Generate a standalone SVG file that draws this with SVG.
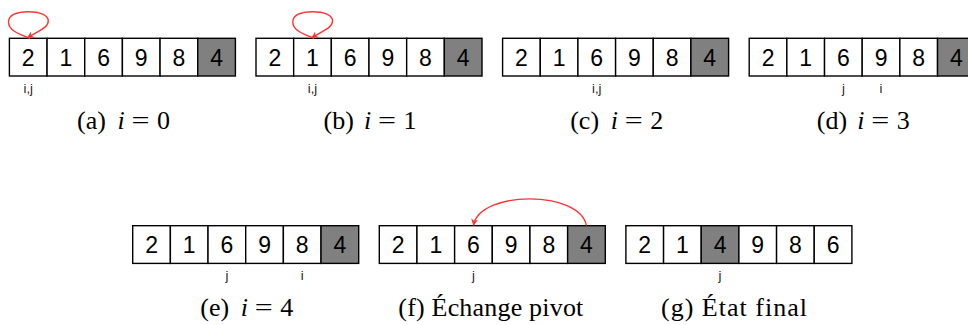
<svg xmlns="http://www.w3.org/2000/svg" width="968" height="325" viewBox="0 0 968 325">
<defs>
<style>
.c{fill:#fff;stroke:#000;stroke-width:1.4}
.p{fill:#808080;stroke:#000;stroke-width:1.4}
.n{font-family:"Liberation Sans",Arial,sans-serif;font-size:23px;fill:#000;text-anchor:middle}
.l{font-family:"Liberation Sans",Arial,sans-serif;font-size:13px;fill:#222;text-anchor:middle}
.cap{font-family:"Liberation Serif","Times New Roman",serif;font-size:26px;fill:#000}
.m{font-style:italic}
.a{fill:none;stroke:#f33;stroke-width:1.4}
</style>
<marker id="ah" viewBox="0 0 10 10" refX="9" refY="5" markerWidth="7" markerHeight="7" markerUnits="userSpaceOnUse" orient="auto">
<path d="M0,0 L10,5 L0,10 L3,5 z" fill="#f33"/>
</marker>
</defs>
<rect width="968" height="325" fill="#fff"/>

<g id="array-a">
<rect class="c" x="9.4" y="38.3" width="37.67" height="37.7"/>
<rect class="c" x="47.07" y="38.3" width="37.67" height="37.7"/>
<rect class="c" x="84.73" y="38.3" width="37.67" height="37.7"/>
<rect class="c" x="122.4" y="38.3" width="37.67" height="37.7"/>
<rect class="c" x="160.07" y="38.3" width="37.67" height="37.7"/>
<rect class="p" x="197.73" y="38.3" width="37.67" height="37.7"/>
<text class="n" x="28.23" y="65.5">2</text>
<text class="n" x="65.9" y="65.5">1</text>
<text class="n" x="103.57" y="65.5">6</text>
<text class="n" x="141.23" y="65.5">9</text>
<text class="n" x="178.9" y="65.5">8</text>
<text class="n" x="216.57" y="65.5">4</text>
<text class="l" x="28.23" y="92.5">i,j</text>
<text class="cap" y="129"><tspan x="77">(a)</tspan><tspan class="m" x="117.5">i</tspan><tspan x="131.5" textLength="18" lengthAdjust="spacingAndGlyphs">=</tspan><tspan x="157">0</tspan></text>
</g>

<g id="array-b">
<rect class="c" x="256" y="38.3" width="37.67" height="37.7"/>
<rect class="c" x="293.67" y="38.3" width="37.67" height="37.7"/>
<rect class="c" x="331.33" y="38.3" width="37.67" height="37.7"/>
<rect class="c" x="369" y="38.3" width="37.67" height="37.7"/>
<rect class="c" x="406.67" y="38.3" width="37.67" height="37.7"/>
<rect class="p" x="444.33" y="38.3" width="37.67" height="37.7"/>
<text class="n" x="274.83" y="65.5">2</text>
<text class="n" x="312.5" y="65.5">1</text>
<text class="n" x="350.17" y="65.5">6</text>
<text class="n" x="387.83" y="65.5">9</text>
<text class="n" x="425.5" y="65.5">8</text>
<text class="n" x="463.17" y="65.5">4</text>
<text class="l" x="312.5" y="92.5">i,j</text>
<text class="cap" y="129"><tspan x="323.6">(b)</tspan><tspan class="m" x="364.1">i</tspan><tspan x="378.1" textLength="18" lengthAdjust="spacingAndGlyphs">=</tspan><tspan x="403.6">1</tspan></text>
</g>

<g id="array-c">
<rect class="c" x="502.6" y="38.3" width="37.67" height="37.7"/>
<rect class="c" x="540.27" y="38.3" width="37.67" height="37.7"/>
<rect class="c" x="577.93" y="38.3" width="37.67" height="37.7"/>
<rect class="c" x="615.6" y="38.3" width="37.67" height="37.7"/>
<rect class="c" x="653.27" y="38.3" width="37.67" height="37.7"/>
<rect class="p" x="690.93" y="38.3" width="37.67" height="37.7"/>
<text class="n" x="521.43" y="65.5">2</text>
<text class="n" x="559.1" y="65.5">1</text>
<text class="n" x="596.77" y="65.5">6</text>
<text class="n" x="634.43" y="65.5">9</text>
<text class="n" x="672.1" y="65.5">8</text>
<text class="n" x="709.77" y="65.5">4</text>
<text class="l" x="596.77" y="92.5">i,j</text>
<text class="cap" y="129"><tspan x="570.2">(c)</tspan><tspan class="m" x="610.7">i</tspan><tspan x="624.7" textLength="18" lengthAdjust="spacingAndGlyphs">=</tspan><tspan x="650.2">2</tspan></text>
</g>

<g id="array-d">
<rect class="c" x="749.2" y="38.3" width="37.67" height="37.7"/>
<rect class="c" x="786.87" y="38.3" width="37.67" height="37.7"/>
<rect class="c" x="824.53" y="38.3" width="37.67" height="37.7"/>
<rect class="c" x="862.2" y="38.3" width="37.67" height="37.7"/>
<rect class="c" x="899.87" y="38.3" width="37.67" height="37.7"/>
<rect class="p" x="937.53" y="38.3" width="37.67" height="37.7"/>
<text class="n" x="768.03" y="65.5">2</text>
<text class="n" x="805.7" y="65.5">1</text>
<text class="n" x="843.37" y="65.5">6</text>
<text class="n" x="881.03" y="65.5">9</text>
<text class="n" x="918.7" y="65.5">8</text>
<text class="n" x="956.37" y="65.5">4</text>
<text class="l" x="843.37" y="92.5">j</text>
<text class="l" x="881.03" y="92.5">i</text>
<text class="cap" y="129"><tspan x="816.8">(d)</tspan><tspan class="m" x="857.3">i</tspan><tspan x="871.3" textLength="18" lengthAdjust="spacingAndGlyphs">=</tspan><tspan x="896.8">3</tspan></text>
</g>

<g id="array-e">
<rect class="c" x="132.7" y="225.7" width="37.67" height="37.7"/>
<rect class="c" x="170.37" y="225.7" width="37.67" height="37.7"/>
<rect class="c" x="208.03" y="225.7" width="37.67" height="37.7"/>
<rect class="c" x="245.7" y="225.7" width="37.67" height="37.7"/>
<rect class="c" x="283.37" y="225.7" width="37.67" height="37.7"/>
<rect class="p" x="321.03" y="225.7" width="37.67" height="37.7"/>
<text class="n" x="151.53" y="252.9">2</text>
<text class="n" x="189.2" y="252.9">1</text>
<text class="n" x="226.87" y="252.9">6</text>
<text class="n" x="264.53" y="252.9">9</text>
<text class="n" x="302.2" y="252.9">8</text>
<text class="n" x="339.87" y="252.9">4</text>
<text class="l" x="226.87" y="279.9">j</text>
<text class="l" x="302.2" y="279.9">i</text>
<text class="cap" y="316.4"><tspan x="200.3">(e)</tspan><tspan class="m" x="240.8">i</tspan><tspan x="254.8" textLength="18" lengthAdjust="spacingAndGlyphs">=</tspan><tspan x="280.3">4</tspan></text>
</g>

<g id="array-f">
<rect class="c" x="379.3" y="225.7" width="37.67" height="37.7"/>
<rect class="c" x="416.97" y="225.7" width="37.67" height="37.7"/>
<rect class="c" x="454.63" y="225.7" width="37.67" height="37.7"/>
<rect class="c" x="492.3" y="225.7" width="37.67" height="37.7"/>
<rect class="c" x="529.97" y="225.7" width="37.67" height="37.7"/>
<rect class="p" x="567.63" y="225.7" width="37.67" height="37.7"/>
<text class="n" x="398.13" y="252.9">2</text>
<text class="n" x="435.8" y="252.9">1</text>
<text class="n" x="473.47" y="252.9">6</text>
<text class="n" x="511.13" y="252.9">9</text>
<text class="n" x="548.8" y="252.9">8</text>
<text class="n" x="586.47" y="252.9">4</text>
<text class="l" x="473.47" y="279.9">j</text>
<text class="cap" x="398.3" y="316.4" textLength="185" lengthAdjust="spacing">(f) Échange pivot</text>
</g>

<g id="array-g">
<rect class="c" x="625.9" y="225.7" width="37.67" height="37.7"/>
<rect class="c" x="663.57" y="225.7" width="37.67" height="37.7"/>
<rect class="p" x="701.23" y="225.7" width="37.67" height="37.7"/>
<rect class="c" x="738.9" y="225.7" width="37.67" height="37.7"/>
<rect class="c" x="776.57" y="225.7" width="37.67" height="37.7"/>
<rect class="c" x="814.23" y="225.7" width="37.67" height="37.7"/>
<text class="n" x="644.73" y="252.9">2</text>
<text class="n" x="682.4" y="252.9">1</text>
<text class="n" x="720.07" y="252.9">4</text>
<text class="n" x="757.73" y="252.9">9</text>
<text class="n" x="795.4" y="252.9">8</text>
<text class="n" x="833.07" y="252.9">6</text>
<text class="l" x="720.07" y="279.9">j</text>
<text class="cap" x="661" y="316.4" textLength="146" lengthAdjust="spacing">(g) État final</text>
</g>

<g id="connectors">
<path class="a" marker-end="url(#ah)" d="M 30 38.3 C 18 34, 8.5 30, 8.5 22 C 8.5 15, 17 11.7, 28 11.7 C 40 11.7, 48.3 15, 48.3 21 C 48.3 28, 38 31, 27.5 37.8"/>
<path class="a" marker-end="url(#ah)" transform="translate(284.27,0)" d="M 30 38.3 C 18 34, 8.5 30, 8.5 22 C 8.5 15, 17 11.7, 28 11.7 C 40 11.7, 48.3 15, 48.3 21 C 48.3 28, 38 31, 27.5 37.8"/>
<path class="a" marker-end="url(#ah)" d="M 586.47 225.7 C 580 190, 480 190, 473.47 225.2"/>
</g>
</svg>
